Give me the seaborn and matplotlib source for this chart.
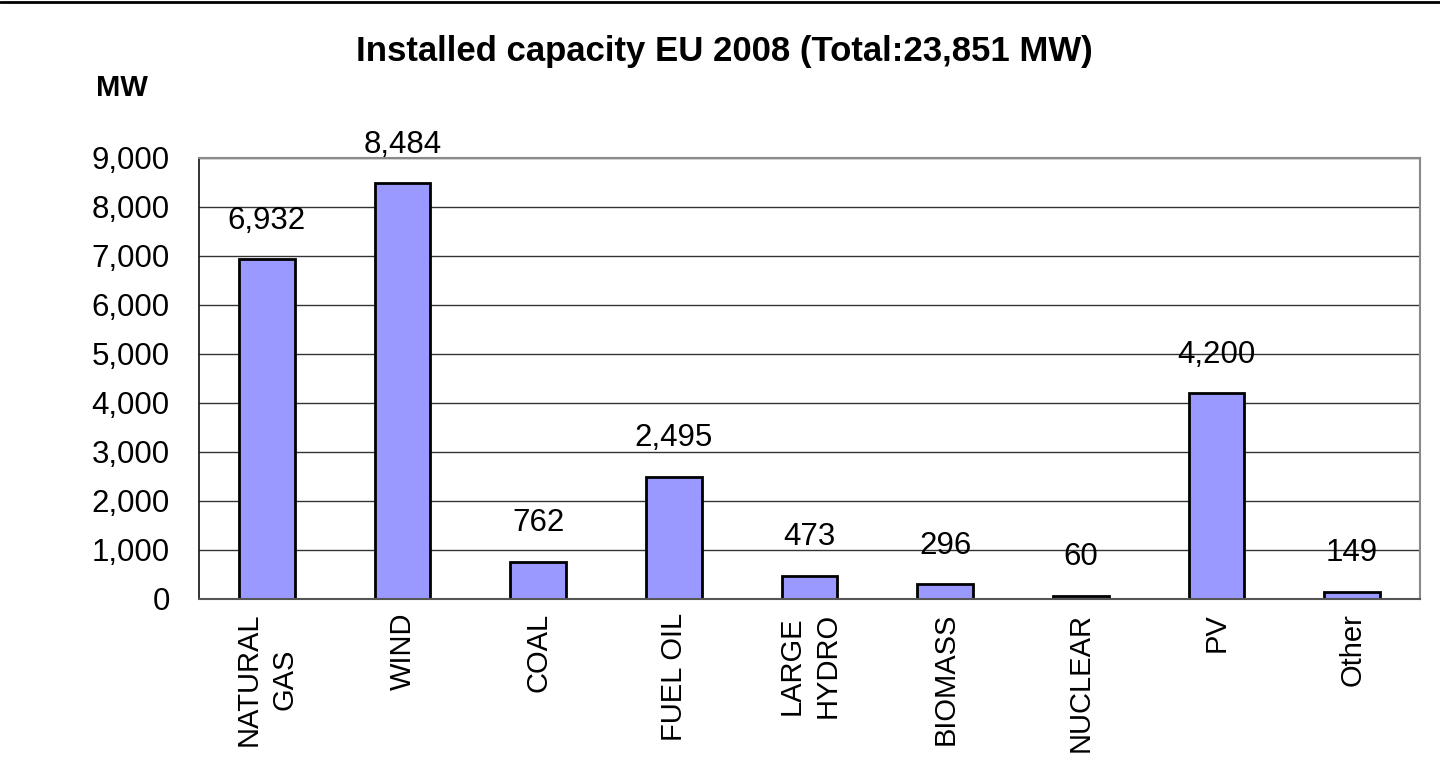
import matplotlib
matplotlib.use("Agg")
import matplotlib.pyplot as plt
from matplotlib.lines import Line2D
from matplotlib.ticker import StrMethodFormatter, FixedLocator
import numpy as np
import pandas as pd
import seaborn as sns

# Installed capacity by technology, EU 2008 (MW)
categories = ["NATURAL\nGAS", "WIND", "COAL", "FUEL OIL", "LARGE\nHYDRO",
              "BIOMASS", "NUCLEAR", "PV", "Other"]
capacity_mw = [6932, 8484, 762, 2495, 473, 296, 60, 4200, 149]
y_ticks = list(range(0, 9001, 1000))

df = pd.DataFrame({"source": categories, "mw": capacity_mw})

sns.set_theme(style="white")
plt.rcParams["font.family"] = ["Liberation Sans", "DejaVu Sans"]
plt.rcParams["text.color"] = "black"
plt.rcParams["xtick.color"] = "black"
plt.rcParams["ytick.color"] = "black"

fig = plt.figure(figsize=(14.4, 7.76), dpi=100)
ax = fig.add_axes([0.1382, 0.2281, 0.8479, 0.5683])

sns.barplot(data=df, x="source", y="mw", order=categories, color="#9999FF",
            edgecolor="black", linewidth=2, width=0.41, saturation=1, ax=ax)

ax.set_xlim(-0.5, len(categories) - 0.5)
ax.set_ylim(0, 9000)
ax.yaxis.set_major_locator(FixedLocator(y_ticks))
ax.yaxis.set_major_formatter(StrMethodFormatter("{x:,.0f}"))
ax.grid(axis="y", color="#333333", linewidth=1)
ax.set_axisbelow(True)

ax.set_xlabel("")
ax.set_ylabel("")

# category labels at bar centres, tick marks at category boundaries
ax.set_xticks(np.arange(len(categories)))
ax.set_xticklabels(categories, rotation=90, fontsize=21, ha="center", va="top",
                   multialignment="center", linespacing=1.35, color="black")
ax.set_xticks(np.arange(-0.5, len(categories), 1), minor=True)
ax.tick_params(axis="x", which="major", length=0, pad=10)
ax.tick_params(axis="x", which="minor", length=8, width=1, color="#444444", direction="out")
ax.tick_params(axis="y", which="major", length=8, width=1, color="#222222",
               direction="out", labelsize=22.5, pad=13, labelcolor="black")

for side in ["top", "right"]:
    ax.spines[side].set_visible(True)
    ax.spines[side].set_color("#8a8a8a")
    ax.spines[side].set_linewidth(1.5)
ax.spines["left"].set_color("#111111")
ax.spines["left"].set_linewidth(1.2)
ax.spines["bottom"].set_color("#555555")
ax.spines["bottom"].set_linewidth(1.5)

# value labels above each bar
for i, v in enumerate(capacity_mw):
    ax.annotate(f"{v:,}", xy=(i, v), xytext=(0, 17), textcoords="offset points",
                ha="center", va="bottom", fontsize=22.5, color="black")

fig.text(0.503, 0.933, "Installed capacity EU 2008 (Total:23,851 MW)",
         ha="center", va="center", fontsize=25, fontweight="bold", color="black")
fig.text(0.085, 0.886, "MW", ha="center", va="center", fontsize=21,
         fontweight="bold", color="black")

# thin rule along the top edge
fig.add_artist(Line2D([0, 1], [0.998, 0.998], transform=fig.transFigure,
                      color="black", linewidth=2))

fig.savefig("out.png", dpi=100, facecolor="white")
